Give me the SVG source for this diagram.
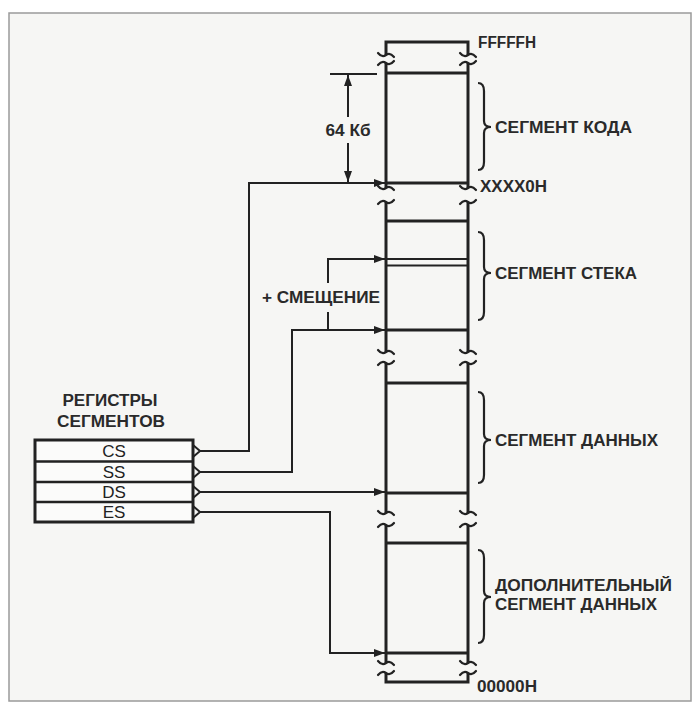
<svg xmlns="http://www.w3.org/2000/svg" width="697" height="711" viewBox="0 0 697 711">
<style>
.t{font-family:"Liberation Sans",Arial,sans-serif;font-weight:bold;font-size:16px;fill:#2a2a2a}
.r{font-family:"Liberation Sans",Arial,sans-serif;font-size:17px;fill:#222}
.col{stroke:#222;stroke-width:3;fill:none}
.cn{stroke:#222;stroke-width:2;fill:none}
.br{stroke:#222;stroke-width:2.2;fill:none}
.sq{stroke:#222;stroke-width:2.2;fill:none;stroke-linecap:round}
</style>
<defs>
<marker id="ah" markerWidth="11" markerHeight="8" refX="11" refY="4" orient="auto" markerUnits="userSpaceOnUse">
<path d="M0,0 L11,4 L0,8 Z" fill="#222"/>
</marker>
</defs>
<rect x="0" y="0" width="697" height="711" fill="#ffffff"/>
<rect x="9" y="13" width="682" height="688" fill="#f6f6f4" stroke="#9a9a9a" stroke-width="1.5"/>

<g id="memory">
<path class="col" d="M386,55 V42 H468 V55"/>
<path class="col" d="M386,63 V188 M468,63 V188 M386,73 H468 M386,183 H468"/>
<path class="col" d="M386,202 V352 M468,202 V352 M386,221 H468 M386,330 H468"/>
<path class="cn" d="M386,259 H468 M386,265.5 H468" stroke-width="2.6"/>
<path class="col" d="M386,363 V513 M468,363 V513 M386,383 H468 M386,493 H468"/>
<path class="col" d="M386,525 V663 M468,525 V663 M386,543 H468 M386,653 H468"/>
<path class="col" d="M386,673 V682 H468 V673"/>
<g class="sq">
<path d="M378,53 Q382,58 386,55 Q390,52 394,57"/>
<path d="M460,53 Q464,58 468,55 Q472,52 476,57"/>
<path d="M378,65 Q382,60 386,63 Q390,66 394,61"/>
<path d="M460,65 Q464,60 468,63 Q472,66 476,61"/>
<path d="M378,186 Q382,191 386,188 Q390,185 394,190"/>
<path d="M460,186 Q464,191 468,188 Q472,185 476,190"/>
<path d="M378,204 Q382,199 386,202 Q390,205 394,200"/>
<path d="M460,204 Q464,199 468,202 Q472,205 476,200"/>
<path d="M378,350 Q382,355 386,352 Q390,349 394,354"/>
<path d="M460,350 Q464,355 468,352 Q472,349 476,354"/>
<path d="M378,365 Q382,360 386,363 Q390,366 394,361"/>
<path d="M460,365 Q464,360 468,363 Q472,366 476,361"/>
<path d="M378,511 Q382,516 386,513 Q390,510 394,515"/>
<path d="M460,511 Q464,516 468,513 Q472,510 476,515"/>
<path d="M378,527 Q382,522 386,525 Q390,528 394,523"/>
<path d="M460,527 Q464,522 468,525 Q472,528 476,523"/>
<path d="M378,661 Q382,666 386,663 Q390,660 394,665"/>
<path d="M460,661 Q464,666 468,663 Q472,660 476,665"/>
<path d="M378,675 Q382,670 386,673 Q390,676 394,671"/>
<path d="M460,675 Q464,670 468,673 Q472,676 476,671"/>
</g>
<text class="t" x="478" y="48" textLength="58" lengthAdjust="spacingAndGlyphs">FFFFFH</text>
<text class="t" x="480" y="192" textLength="67" lengthAdjust="spacingAndGlyphs">XXXX0H</text>
<text class="t" x="477" y="692" textLength="60" lengthAdjust="spacingAndGlyphs">00000H</text>
</g>

<g id="code-seg">
<path class="br" d="M478,83 Q484,83 484,91 V121 Q484,127 491,127 Q484,127 484,133 V162 Q484,170 478,170"/>
<text class="t" x="495" y="133" textLength="137" lengthAdjust="spacingAndGlyphs">СЕГМЕНТ КОДА</text>
</g>
<g id="stack-seg">
<path class="br" d="M478,232 Q484,232 484,240 V267 Q484,273 491,273 Q484,273 484,279 V312 Q484,320 478,320"/>
<text class="t" x="495" y="279" textLength="142" lengthAdjust="spacingAndGlyphs">СЕГМЕНТ СТЕКА</text>
</g>
<g id="data-seg">
<path class="br" d="M478,392 Q484,392 484,400 V434 Q484,440 491,440 Q484,440 484,446 V475 Q484,483 478,483"/>
<text class="t" x="495" y="446" textLength="163" lengthAdjust="spacingAndGlyphs">СЕГМЕНТ ДАННЫХ</text>
</g>
<g id="extra-seg">
<path class="br" d="M478,550 Q484,550 484,558 V591 Q484,597 491,597 Q484,597 484,603 V635 Q484,643 478,643"/>
<text class="t" x="495" y="591" textLength="177" lengthAdjust="spacingAndGlyphs">ДОПОЛНИТЕЛЬНЫЙ</text>
<text class="t" x="495" y="610" textLength="162" lengthAdjust="spacingAndGlyphs">СЕГМЕНТ ДАННЫХ</text>
</g>

<g id="size-64k">
<path class="cn" d="M330,74 H377"/>
<path class="cn" d="M348,117 V75" marker-end="url(#ah)"/>
<path class="cn" d="M348,143 V182" marker-end="url(#ah)"/>
<text class="t" x="348" y="136" text-anchor="middle" textLength="45" lengthAdjust="spacingAndGlyphs">64 Кб</text>
</g>

<g id="registers">
<text class="t" x="110" y="406" text-anchor="middle" textLength="95" lengthAdjust="spacingAndGlyphs">РЕГИСТРЫ</text>
<text class="t" x="111" y="427" text-anchor="middle" textLength="108" lengthAdjust="spacingAndGlyphs">СЕГМЕНТОВ</text>
<rect x="35" y="440" width="158" height="82" fill="#fbfbfa" stroke="#222" stroke-width="3"/>
<path stroke="#222" stroke-width="2.5" d="M35,461.5 H193 M35,482 H193 M35,502 H193"/>
<path class="cn" d="M193,445 L200,451 L193,457 M193,466 L200,472 L193,478 M193,486 L200,492 L193,498 M193,506 L200,512 L193,518"/>
<text class="r" x="114" y="457" text-anchor="middle">CS</text>
<text class="r" x="114" y="478" text-anchor="middle">SS</text>
<text class="r" x="114" y="498" text-anchor="middle">DS</text>
<text class="r" x="114" y="518" text-anchor="middle">ES</text>
</g>

<g id="connectors">
<path class="cn" d="M200,451 H249 V183 H385" marker-end="url(#ah)"/>
<path class="cn" d="M200,472 H292 V330 H385" marker-end="url(#ah)"/>
<path class="cn" d="M328,330 V312"/>
<path class="cn" d="M328,283 V259 H385" marker-end="url(#ah)"/>
<path class="cn" d="M200,492 H385" marker-end="url(#ah)"/>
<path class="cn" d="M200,512 H330 V653 H385" marker-end="url(#ah)"/>
<text class="t" x="262" y="303" textLength="118" lengthAdjust="spacingAndGlyphs">+ СМЕЩЕНИЕ</text>
</g>
</svg>
